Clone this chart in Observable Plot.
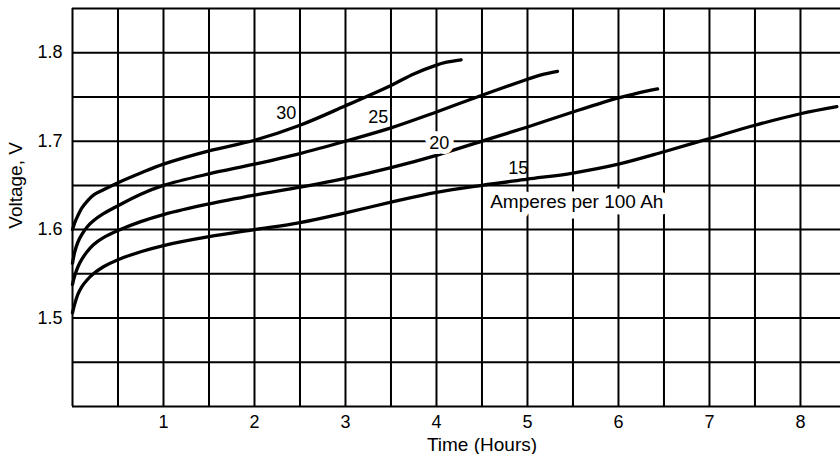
<!DOCTYPE html>
<html>
<head>
<meta charset="utf-8">
<script src="https://cdn.jsdelivr.net/npm/d3@7"></script>
<script src="https://cdn.jsdelivr.net/npm/@observablehq/plot@0.6"></script>
<style>
  html, body { margin: 0; padding: 0; background: #fff; }
</style>
</head>
<body>
<div id="chart"></div>
<script>
// ---- data ----
const hours30 = [0, 0.025, 0.06, 0.1, 0.16, 0.23, 0.34, 0.5, 0.75, 1, 1.5, 2, 2.5, 3, 3.5, 3.75, 4, 4.1, 4.27];
const volts30 = [1.600, 1.608, 1.616, 1.624, 1.632, 1.639, 1.645, 1.653, 1.664, 1.674, 1.689, 1.701, 1.718, 1.740, 1.763, 1.776, 1.786, 1.789, 1.792];

const hours25 = [0, 0.025, 0.06, 0.1, 0.16, 0.23, 0.34, 0.5, 0.75, 1, 1.5, 2, 2.5, 3, 3.5, 4, 4.5, 5, 5.15, 5.33];
const volts25 = [1.562, 1.575, 1.586, 1.594, 1.603, 1.610, 1.618, 1.627, 1.640, 1.650, 1.663, 1.674, 1.686, 1.700, 1.715, 1.733, 1.752, 1.770, 1.775, 1.779];

const hours20 = [0, 0.025, 0.06, 0.1, 0.16, 0.23, 0.34, 0.5, 0.75, 1, 1.5, 2, 2.5, 3, 3.5, 4, 4.5, 5, 5.5, 6, 6.2, 6.43];
const volts20 = [1.538, 1.548, 1.558, 1.566, 1.575, 1.583, 1.591, 1.599, 1.609, 1.617, 1.629, 1.639, 1.648, 1.658, 1.670, 1.684, 1.700, 1.716, 1.733, 1.749, 1.754, 1.759];

const hours15 = [0, 0.025, 0.06, 0.1, 0.16, 0.23, 0.34, 0.5, 0.75, 1, 1.5, 2, 2.5, 3, 3.5, 4, 4.5, 5, 5.5, 6, 6.5, 7, 7.5, 8, 8.4];
const volts15 = [1.506, 1.516, 1.527, 1.535, 1.543, 1.550, 1.558, 1.566, 1.575, 1.582, 1.592, 1.600, 1.608, 1.619, 1.631, 1.642, 1.650, 1.657, 1.664, 1.674, 1.688, 1.703, 1.718, 1.731, 1.739];

const seriesNames = ["30", "25", "20", "15"];
const labelHours = [2.35, 3.36, 4.03, 4.90];
const labelVolts = [1.7315, 1.727, 1.6975, 1.669];
const rateNote = "Amperes per 100 Ah";
const rateNoteHours = 4.59;
const rateNoteVolts = 1.631;

const xTickLabels = [1, 2, 3, 4, 5, 6, 7, 8];
const yTickLabels = [1.5, 1.6, 1.7, 1.8];
const gridHours = [0, 0.5, 1, 1.5, 2, 2.5, 3, 3.5, 4, 4.5, 5, 5.5, 6, 6.5, 7, 7.5, 8];
const gridVolts = [1.4, 1.45, 1.5, 1.55, 1.6, 1.65, 1.7, 1.75, 1.8, 1.85];

const xTitle = "Time (Hours)";
const yTitle = "Voltage, V";

// ---- build table ----
const seriesCols = [[hours30, volts30], [hours25, volts25], [hours20, volts20], [hours15, volts15]];
const rows = seriesCols.flatMap(([h, v], i) =>
  h.map((t, j) => ({hours: t, volts: v[j], series: seriesNames[i]})));
const labels = seriesNames.map((s, i) => ({text: s, hours: labelHours[i], volts: labelVolts[i]}));

const font = "'Liberation Sans', Arial, Helvetica, sans-serif";

const chart = Plot.plot({
  width: 840,
  height: 454,
  marginLeft: 72,
  marginRight: 0,
  marginTop: 8,
  marginBottom: 48,
  style: {fontFamily: font, fontSize: "18px", background: "#fff", color: "#000", overflow: "visible"},
  x: {domain: [0, 8.44], ticks: xTickLabels, tickSize: 0, tickPadding: 9, tickFormat: d3.format("d"), label: null},
  y: {domain: [1.4, 1.85], ticks: yTickLabels, tickSize: 0, tickPadding: 10, tickFormat: d3.format(".1f"), label: null},
  marks: [
    Plot.ruleX(gridHours, {stroke: "#000", strokeWidth: 2}),
    Plot.ruleY(gridVolts, {stroke: "#000", strokeWidth: 2}),
    Plot.line(rows, {x: "hours", y: "volts", z: "series", stroke: "#000", strokeWidth: 3.3, curve: "catmull-rom"}),
    Plot.text(labels.filter(d => d.text === "20"), {x: "hours", y: "volts", text: "text", fill: "#000", stroke: "#fff", strokeWidth: 10, fontSize: 18}),
    Plot.text(labels.filter(d => d.text !== "20"), {x: "hours", y: "volts", text: "text", fill: "#000", fontSize: 18}),
    Plot.text([rateNote], {x: () => rateNoteHours, y: () => rateNoteVolts, text: d => d, textAnchor: "start", fill: "#000", stroke: "#fff", strokeWidth: 13, fontSize: 19}),
    Plot.text([xTitle], {x: () => 4.5, frameAnchor: "bottom", lineAnchor: "middle", dy: 38, text: d => d, fill: "#000", fontSize: 19}),
    Plot.text([yTitle], {y: () => 1.65, frameAnchor: "left", textAnchor: "middle", dx: -57, rotate: -90, text: d => d, fill: "#000", fontSize: 19})
  ]
});

document.getElementById("chart").appendChild(chart);
</script>
</body>
</html>
